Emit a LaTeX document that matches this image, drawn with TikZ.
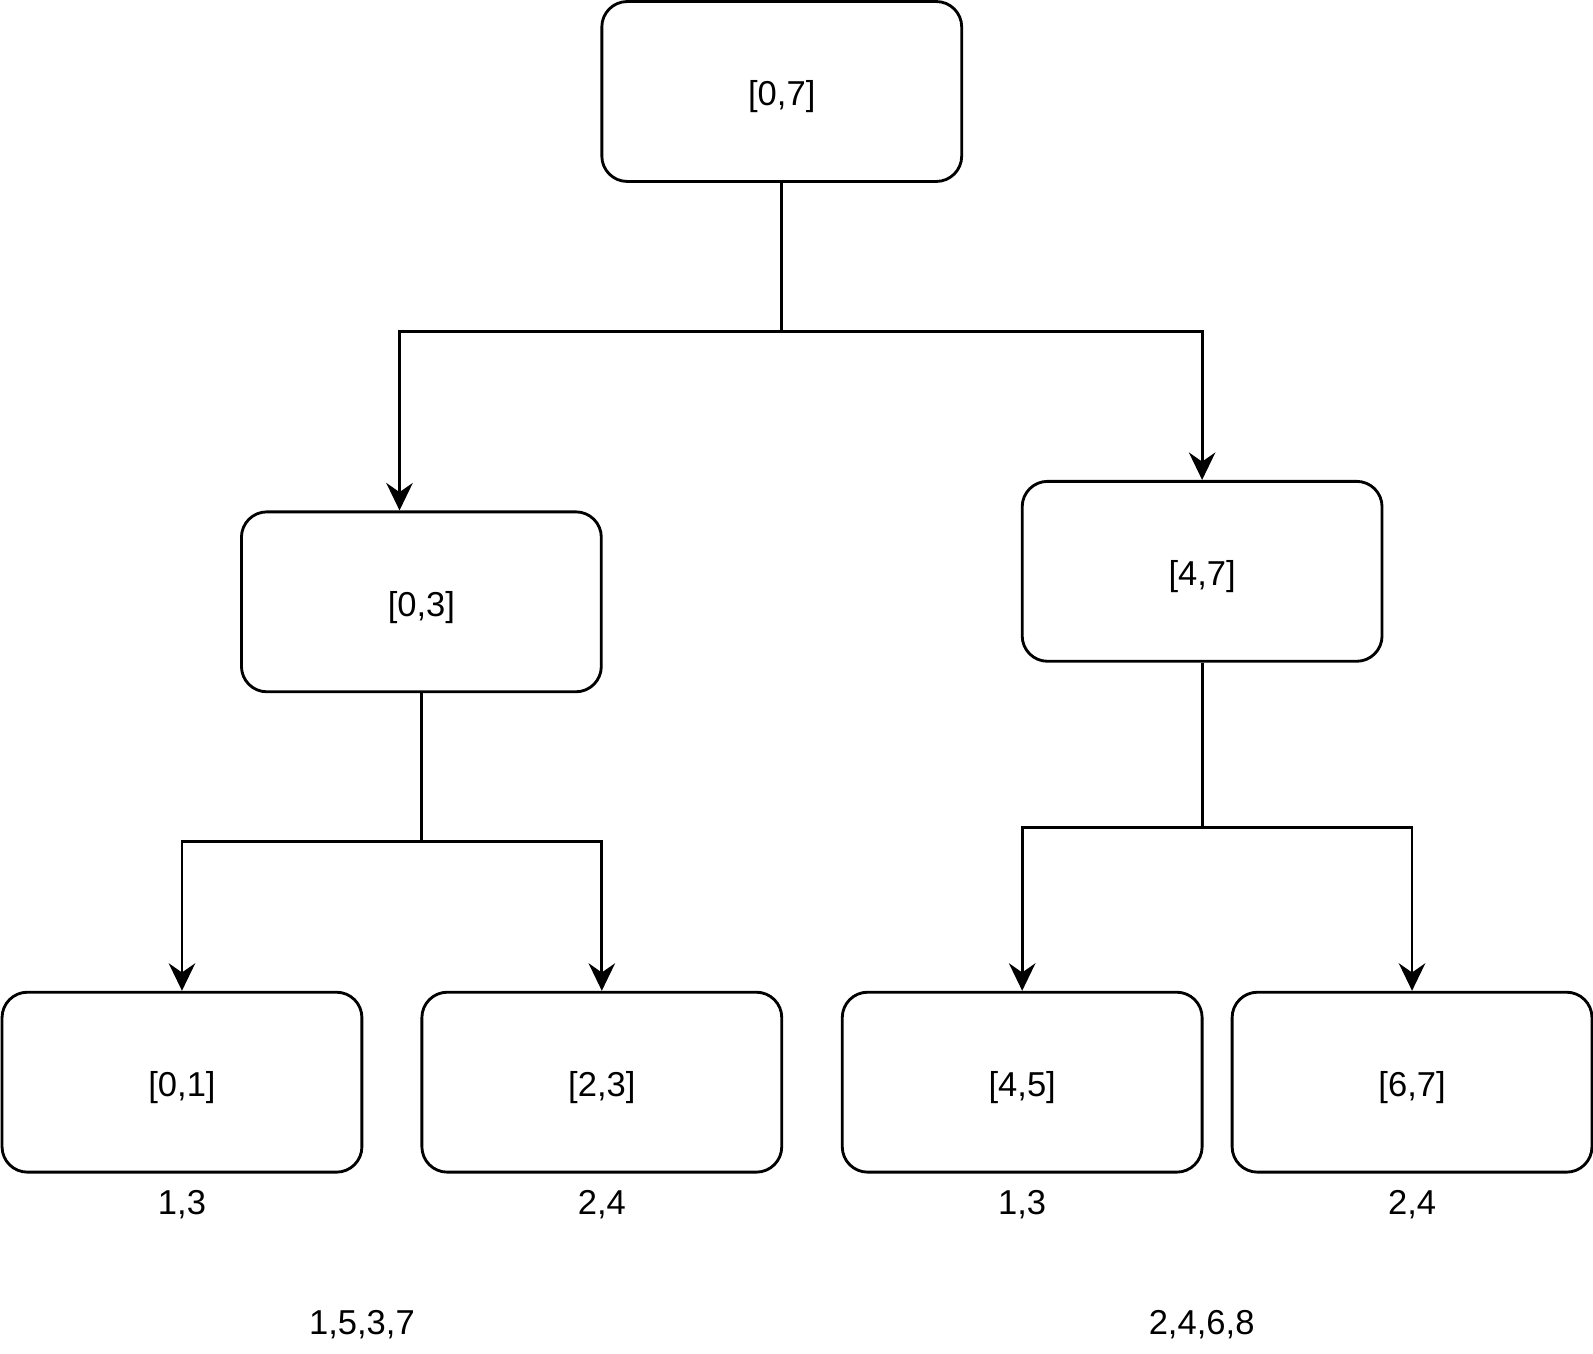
\documentclass[tikz,border=0pt]{standalone}
\usepackage{fontspec}
\setmainfont{Liberation Sans}
\usetikzlibrary{arrows.meta,positioning}
\begin{document}
\begin{tikzpicture}[x=1pt,y=-1pt,
  box/.style={draw=black,line width=2.8pt,rounded corners=25pt,minimum width=354pt,minimum height=177pt,inner sep=0pt,text height=28pt,text depth=0pt,font=\fontsize{34}{40}\selectfont},
  lbl/.style={inner sep=0pt,text height=28pt,text depth=0pt,font=\fontsize{34}{40}\selectfont},
  wire/.style={line width=2.8pt},
  conn/.style={wire,-{Stealth[length=27pt,width=26pt,inset=9pt]}}]
\useasboundingbox (0,0) rectangle (1567,1331);
\node[box] (r) at (769,90) {[0,7]};
\node[box] (l) at (414.5,592) {[0,3]};
\node[box] (rr) at (1182.5,562) {[4,7]};
\node[box] (a) at (179,1064.5) {[0,1]};
\node[box] (b) at (592,1064.5) {[2,3]};
\node[box] (c) at (1005.5,1064.5) {[4,5]};
\node[box] (d) at (1389,1064.5) {[6,7]};
\node[lbl] (la) at (179,1181) {1,3};
\node[lbl] (lb) at (592,1181) {2,4};
\node[lbl] (lc) at (1005.5,1181) {1,3};
\node[lbl] (ld) at (1389,1181) {2,4};
\node[lbl] (s1) at (356,1299) {1,5,3,7};
\node[lbl] (s2) at (1182,1299) {2,4,6,8};
\coordinate (rj) at (769,326);
\coordinate (lj) at (414.5,828);
\coordinate (rrj) at (1182.5,814);
\draw[wire] (r.south) -- (rj);
\draw[conn] (rj) -| ([xshift=-21.5pt]l.north);
\draw[conn] (rj) -| (rr.north);
\draw[wire] (l.south) -- (lj);
\draw[conn] (lj) -| (a.north);
\draw[conn] (lj) -| (b.north);
\draw[wire] (rr.south) -- (rrj);
\draw[conn] (rrj) -| (c.north);
\draw[conn] (rrj) -| (d.north);
\end{tikzpicture}
\end{document}
